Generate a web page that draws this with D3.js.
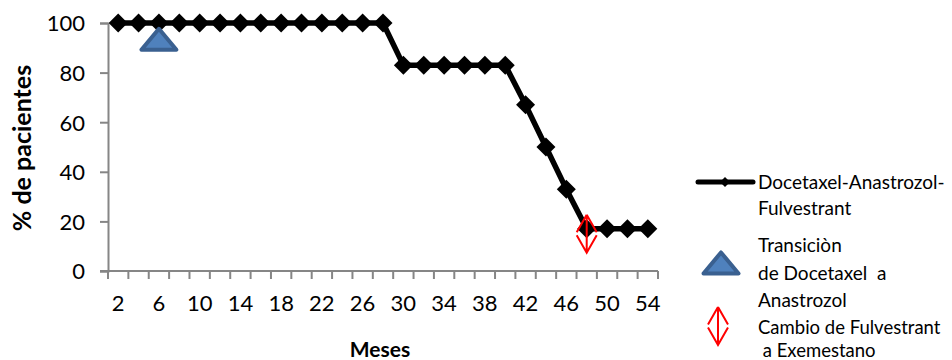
<html>
<head>
<meta charset="utf-8">
<script src="https://cdn.jsdelivr.net/npm/d3@7"></script>
<style>
body{margin:0;padding:0;background:#fff;}
text{font-family:Lato, "Open Sans", sans-serif;fill:#000;white-space:pre;}
</style>
</head>
<body>
<div id="chart"></div>
<script>
// months on x axis
var meses = [2,4,6,8,10,12,14,16,18,20,22,24,26,28,30,32,34,36,38,40,42,44,46,48,50,52,54];
// % de pacientes
var pacientes = [100,100,100,100,100,100,100,100,100,100,100,100,100,100,83,83,83,83,83,83,67,50,33,17,17,17,17];
var yTicks = [0,20,40,60,80,100];
// markers for treatment changes
var transicion = [{mes:6, valor:93}];
var cambio = [{mes:48, valor:15}];
var serieNombre = "Docetaxel-Anastrozol-|Fulvestrant";
var transNombre = ["Transiciòn","de Docetaxel  a","Anastrozol"];
var cambioNombre = ["Cambio de Fulvestrant"," a Exemestano"];

var W = 952, H = 360;
var svg = d3.select("#chart").append("svg")
  .attr("width", W)
  .attr("height", H);

var x = d3.scaleBand().domain(meses).range([108, 658]).padding(0);
var y = d3.scaleLinear().domain([0,100]).range([271, 23]);
var axisColor = "#868686";

// y axis
var yAxis = svg.append("g").attr("transform","translate(108,0)")
  .call(d3.axisLeft(y).tickValues(yTicks).tickSize(8).tickPadding(15));
yAxis.select(".domain").attr("stroke", axisColor).attr("stroke-width", 2);
yAxis.selectAll(".tick line").attr("stroke", axisColor).attr("stroke-width", 2);
yAxis.selectAll(".tick text").attr("font-size", "22px").attr("font-family","Lato").attr("fill","#000").attr("dy","0.36em");

// x axis (ticks between categories)
var bounds = meses.map(function(d){ return x(d); }).concat([x.range()[1]]);
var xg = svg.append("g");
xg.append("line")
  .attr("x1", 100).attr("x2", 658)
  .attr("y1", y(0)).attr("y2", y(0))
  .attr("stroke", axisColor).attr("stroke-width", 2);
xg.selectAll("line.tk").data(bounds).enter().append("line")
  .attr("class","tk")
  .attr("x1", function(d){return d;}).attr("x2", function(d){return d;})
  .attr("y1", y(0)).attr("y2", y(0)+8)
  .attr("stroke", axisColor).attr("stroke-width", 2);
xg.selectAll("text").data(meses.filter(function(d,i){return i%2==0;})).enter().append("text")
  .attr("x", function(d){ return x(d)+x.bandwidth()/2; })
  .attr("y", 311)
  .attr("text-anchor","middle")
  .attr("font-size","22px")
  .text(function(d){return d;});

// axis titles
svg.append("text")
  .attr("x", 380).attr("y", 357)
  .attr("text-anchor","middle")
  .attr("font-size","21px").attr("font-weight","bold")
  .text("Meses");
svg.append("text")
  .attr("transform","translate(31,148) rotate(-90)")
  .attr("text-anchor","middle")
  .attr("font-size","25px").attr("font-weight","bold")
  .text("% de pacientes");

// series line
var cx = function(d){ return x(d)+x.bandwidth()/2; };
var line = d3.line()
  .x(function(d,i){ return cx(meses[i]); })
  .y(function(d){ return y(d); });
svg.append("path")
  .datum(pacientes)
  .attr("d", line)
  .attr("fill","none")
  .attr("stroke","#000")
  .attr("stroke-width",5.5)
  .attr("stroke-linejoin","round");

function diamond(s){ return "M0,"+(-s)+"L"+s+",0L0,"+s+"L"+(-s)+",0Z"; }
svg.selectAll("path.pt").data(pacientes).enter().append("path")
  .attr("class","pt")
  .attr("transform", function(d,i){ return "translate("+cx(meses[i])+","+y(d)+")"; })
  .attr("d", diamond(9.5))
  .attr("fill","#000");

// triangle marker
function tri(w,h){ return "M0,"+(-h*0.55)+"L"+(w/2)+","+(h*0.45)+"L"+(-w/2)+","+(h*0.45)+"Z"; }
svg.selectAll("path.tri").data(transicion).enter().append("path")
  .attr("class","tri")
  .attr("transform", function(d){ return "translate("+cx(d.mes)+","+y(d.valor)+")"; })
  .attr("d", tri(35,21))
  .attr("fill","#4f81bd")
  .attr("stroke","#3a6090")
  .attr("stroke-width",4)
  .attr("stroke-linejoin","round");

// red double arrow marker
function arrow(w,h){
  return "M0,"+(-h)+"L"+w+",-1.5M0,"+(-h)+"L"+(-w)+",-1.5"+
    "M"+w+",1.5L0,"+h+"L"+(-w)+",1.5M0,"+(-h)+"L0,"+h;
}
svg.selectAll("path.arr").data(cambio).enter().append("path")
  .attr("class","arr")
  .attr("transform", function(d){ return "translate("+cx(d.mes)+","+y(d.valor)+")"; })
  .attr("d", arrow(10,19))
  .attr("fill","none")
  .attr("stroke","#ff0000")
  .attr("stroke-width",2);

// legend
var lg = svg.append("g");
lg.append("line").attr("x1",698).attr("x2",753).attr("y1",182).attr("y2",182)
  .attr("stroke","#000").attr("stroke-width",5).attr("stroke-linecap","round");
lg.append("path").attr("transform","translate(725,182)").attr("d",diamond(5)).attr("fill","#000");
lg.selectAll("text.s").data(serieNombre.split("|")).enter().append("text")
  .attr("class","s")
  .attr("x",758).attr("y",function(d,i){return 189+i*26;})
  .attr("font-size","19px")
  .text(function(d){return d;});

lg.append("path").attr("transform","translate(721,264)").attr("d",tri(35,21))
  .attr("fill","#4f81bd").attr("stroke","#3a6090").attr("stroke-width",4).attr("stroke-linejoin","round");
lg.selectAll("text.t").data(transNombre).enter().append("text")
  .attr("class","t")
  .attr("x",758).attr("y",function(d,i){return 252+i*27.5;})
  .attr("font-size","19px")
  .text(function(d){return d;});

lg.append("path").attr("transform","translate(718,326)").attr("d",arrow(10,19))
  .attr("fill","none").attr("stroke","#ff0000").attr("stroke-width",2);
lg.selectAll("text.c").data(cambioNombre).enter().append("text")
  .attr("class","c")
  .attr("x",758).attr("y",function(d,i){return 334+i*23;})
  .attr("font-size","18.5px")
  .text(function(d){return d;});
</script>
</body>
</html>
